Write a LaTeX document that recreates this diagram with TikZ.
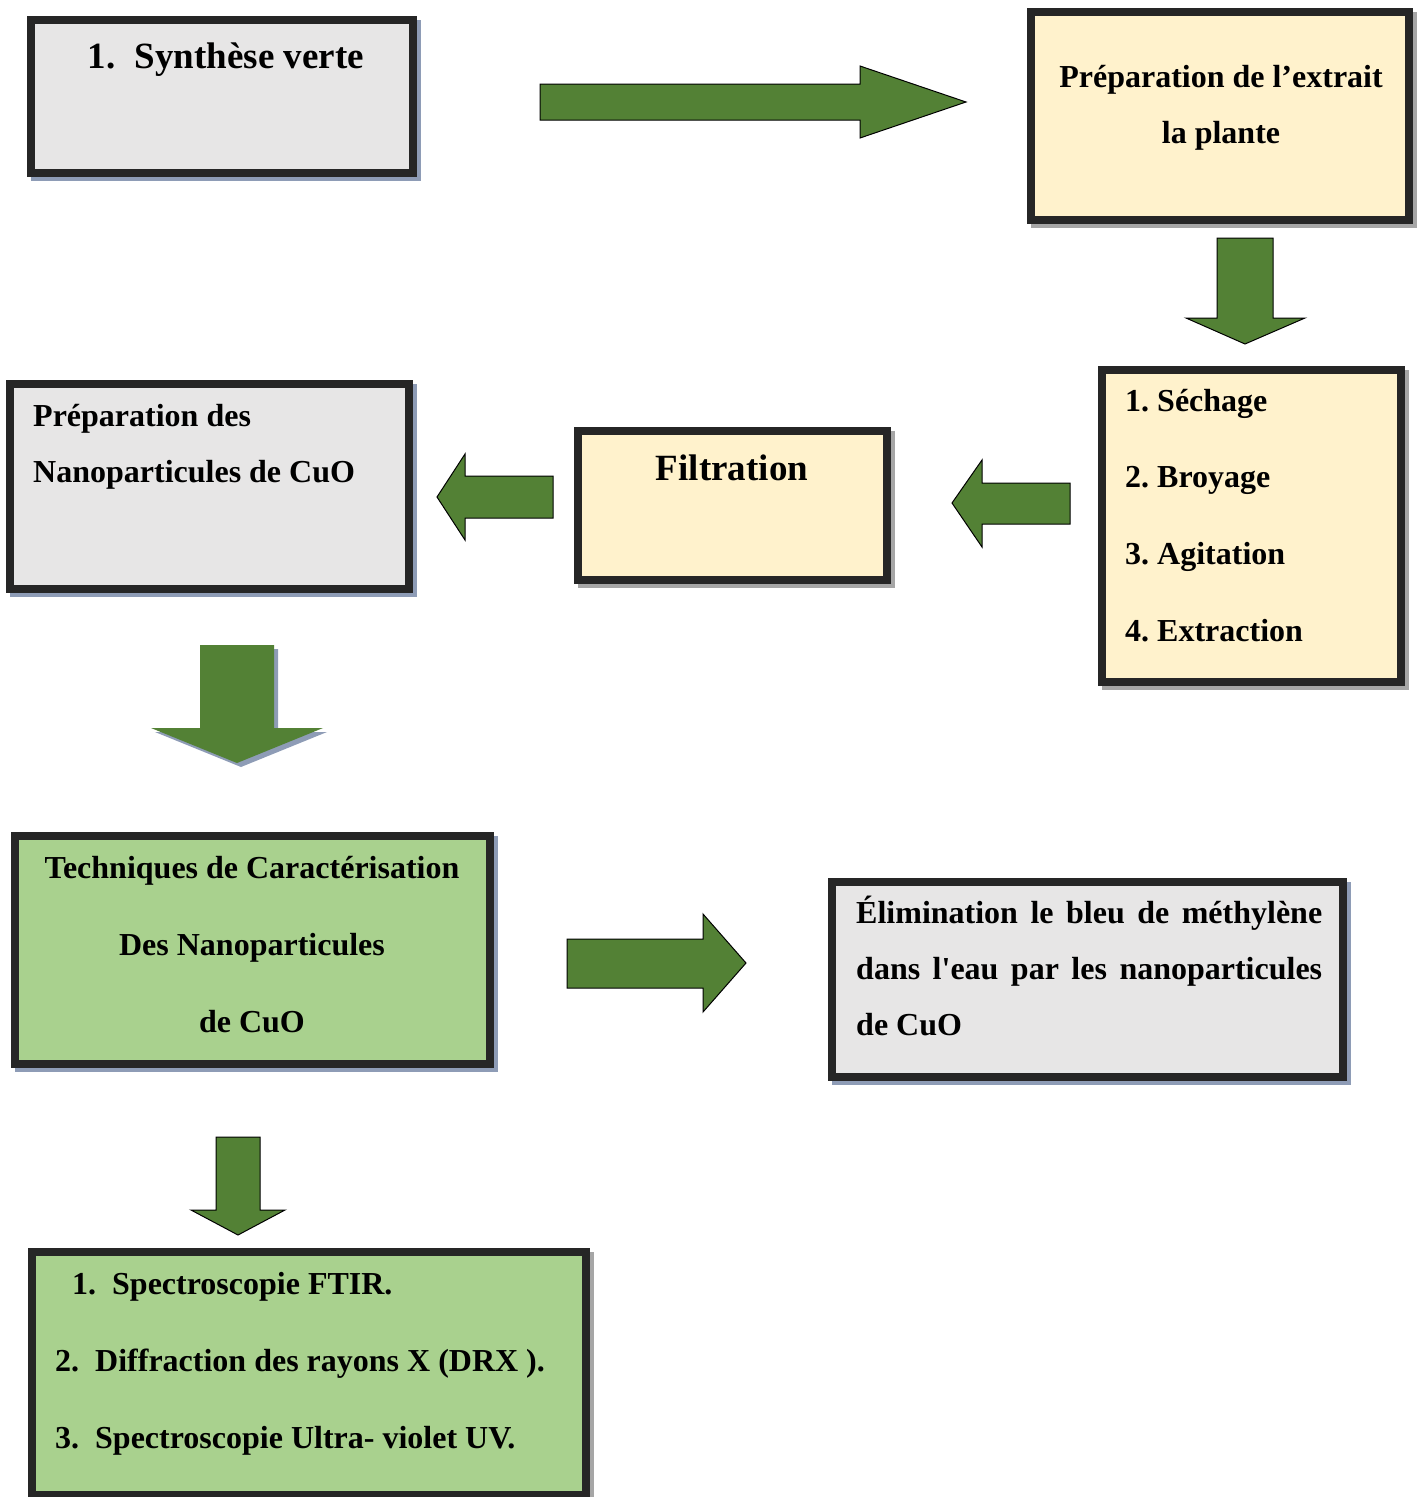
\documentclass[tikz,border=0pt]{standalone}
\usepackage{fontspec}
\setmainfont{Liberation Serif}
\usetikzlibrary{shadows}
\frenchspacing

\definecolor{boxgray}{HTML}{E7E6E6}
\definecolor{boxyellow}{HTML}{FFF2CC}
\definecolor{boxgreen}{HTML}{A9D18E}
\definecolor{arrowgreen}{HTML}{538135}
\definecolor{rim}{HTML}{262626}
\definecolor{shadowblue}{HTML}{8E9CB6}
\definecolor{shadowgray}{HTML}{A6A6A6}

\tikzset{
  box/.style={draw=rim, line width=8pt, inner sep=0pt, outer sep=0pt, anchor=north west,
    general shadow={shadow xshift=4pt, shadow yshift=-4pt, fill=#1, draw=#1, line width=8pt}},
  title/.style={font=\fontsize{37}{44}\selectfont\bfseries, inner sep=0pt, anchor=base},
  txt/.style={font=\fontsize{32}{56}\selectfont\bfseries, inner sep=0pt},
  listtxt/.style={font=\fontsize{32}{76.6}\selectfont\bfseries, inner sep=0pt},
  blockarrow/.style={fill=arrowgreen, draw=black, line width=1pt, line join=miter}
}

\begin{document}
\begin{tikzpicture}[x=1pt, y=-1pt]
   \useasboundingbox (0,0) rectangle (1421,1497);

   % boxes
   \node[box=shadowblue, fill=boxgray, minimum width=382pt, minimum height=153pt] (synth) at (31,20) {};
   \node[box=shadowgray, fill=boxyellow, minimum width=378pt, minimum height=208pt] (extrait) at (1031,12) {};
   \node[box=shadowgray, fill=boxyellow, minimum width=299pt, minimum height=312pt] (etapes) at (1102,370) {};
   \node[box=shadowgray, fill=boxyellow, minimum width=309pt, minimum height=149pt] (filtr) at (578,431) {};
   \node[box=shadowblue, fill=boxgray, minimum width=399pt, minimum height=205pt] (prepa) at (10,384) {};
   \node[box=shadowblue, fill=boxgreen, minimum width=475pt, minimum height=228pt] (tech) at (15,836) {};
   \node[box=shadowblue, fill=boxgray, minimum width=511pt, minimum height=195pt] (elim) at (832,882) {};
   \node[box=shadowgray, fill=boxgreen, minimum width=554pt, minimum height=243pt] (spectro) at (32,1252) {};

   % texts (base = last line)
   \node[title] (synthtxt) at (226,68) {\makebox[47pt][l]{1.}Synthèse verte};
   \node[txt, anchor=base, align=center] (extraittxt) at (1221,143) {Préparation de l’extrait\\la plante};
   \node[listtxt, anchor=base west, align=left] (etapestxt) at (1125,641)
      {1. Séchage\\2. Broyage\\3. Agitation\\4. Extraction};
   \node[title] (filtrtxt) at (732,480) {Filtration};
   \node[txt, anchor=base west, align=left] (prepatxt) at (33,482)
      {Préparation des\\Nanoparticules de CuO};
   \node[listtxt, anchor=base, align=center] (techtxt) at (252,1032)
      {Techniques de Caractérisation\\Des Nanoparticules\\de CuO};
   \node[txt, anchor=base west, align=left] (elimtxt) at (856,1035)
      {\makebox[466pt][s]{Élimination le bleu de méthylène}\\
       \makebox[466pt][s]{dans l\textquotesingle eau par les nanoparticules}\\de CuO};
   \node[listtxt, anchor=base west, align=left] (spectrotxt) at (55,1448)
      {\hspace*{17pt}\makebox[40pt][l]{1.}Spectroscopie FTIR.\\
       \makebox[40pt][l]{2.}Diffraction des rayons X (DRX ).\\
       \makebox[40pt][l]{3.}Spectroscopie Ultra- violet UV.};

   % block arrows
   \draw[blockarrow] (540,84) -- (860,84) -- (860,66) -- (966,102) -- (860,138) -- (860,120) -- (540,120) -- cycle;
   \draw[blockarrow] (1217,238) -- (1273,238) -- (1273,318) -- (1305,318) -- (1245,344) -- (1186,318) -- (1217,318) -- cycle;
   \draw[blockarrow] (1070,483) -- (982,483) -- (982,460) -- (952,503) -- (982,547) -- (982,524) -- (1070,524) -- cycle;
   \draw[blockarrow] (553,476) -- (465,476) -- (465,454) -- (437,497) -- (465,540) -- (465,518) -- (553,518) -- cycle;
   \fill[arrowgreen, general shadow={shadow xshift=4pt, shadow yshift=-4pt, fill=shadowblue}]
      (200,645) -- (274,645) -- (274,728) -- (323,728) -- (237,763) -- (151,728) -- (200,728) -- cycle;
   \draw[blockarrow] (567,939) -- (703,939) -- (703,914) -- (746,963) -- (703,1012) -- (703,988) -- (567,988) -- cycle;
   \draw[blockarrow] (216,1137) -- (260,1137) -- (260,1210) -- (285,1210) -- (238,1235) -- (191,1210) -- (216,1210) -- cycle;
\end{tikzpicture}
\end{document}
